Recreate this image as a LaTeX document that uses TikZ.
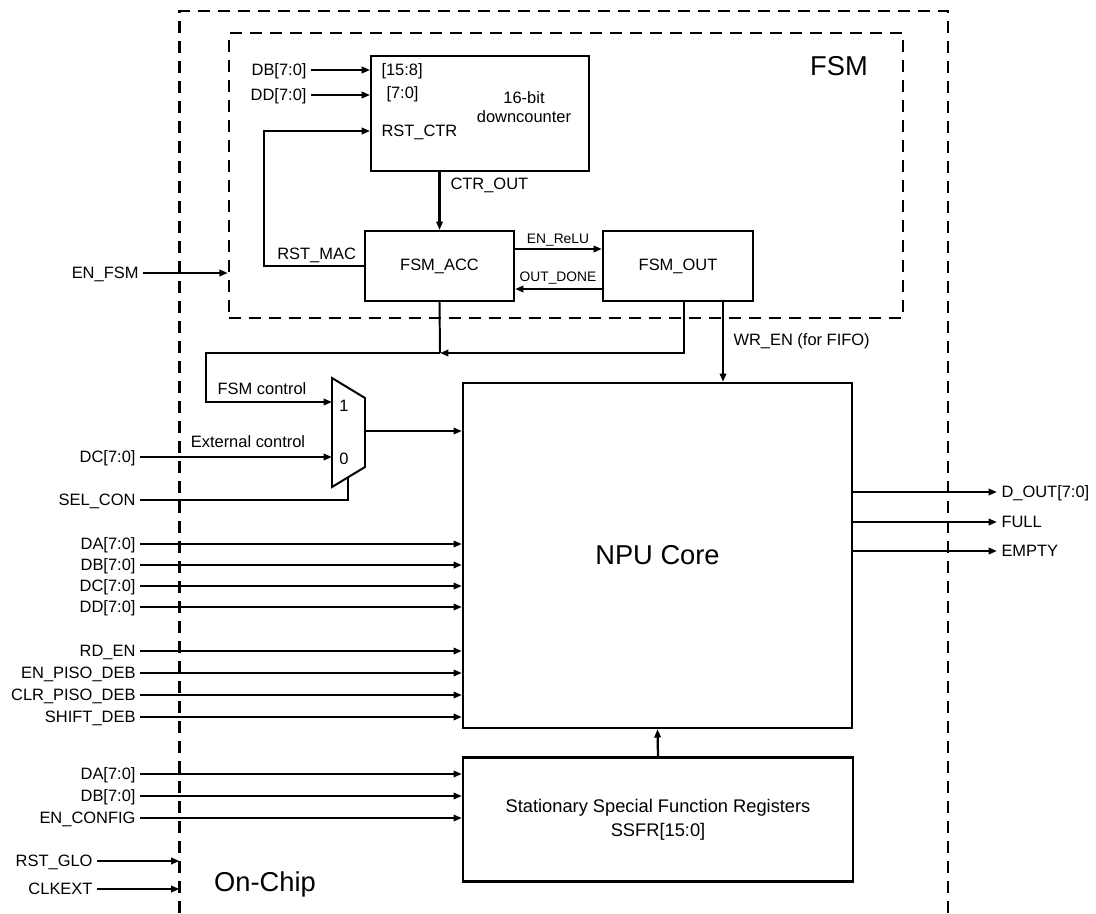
\documentclass[tikz,border=0pt]{standalone}
\usepackage{fontspec}
\setmainfont{Liberation Sans}
\usetikzlibrary{arrows.meta}

\begin{document}
\begin{tikzpicture}[x=0.025cm, y=-0.025cm, font=\fontsize{11.7}{14}\selectfont]
\tikzstyle{block} = [rectangle, draw, line width=1.5pt, inner sep=0pt, align=center]
\tikzstyle{line} = [draw, line width=1.4pt]
\tikzstyle{arrow} = [draw, line width=1.6pt, -{Triangle[length=2.1mm, width=1.6mm]}]
\tikzstyle{border} = [draw, line width=1.6pt, dash pattern=on 3mm off 2mm]
\tikzstyle{pin} = [inner sep=3pt, text height=8.4pt, text depth=0pt]
\tikzstyle{tag} = [font=\fontsize{9.8}{12}\selectfont, inner sep=1pt]
\tikzstyle{title} = [font=\fontsize{19.4}{23}\selectfont]

\useasboundingbox (0,0) rectangle (1096,913);

% chip and FSM borders
\path [border] (179.5,913) -- (179.5,11) -- (948,11) -- (948,913);
\coordinate (chipedge) at (179.5,0);
\node [border, minimum width=16.85cm, minimum height=7.125cm] (fsm) at (566,175.5) {};
\node [title] (fsmname) at (839,66) {FSM};
\node [title] (onchip) at (265,884) {On-Chip};

% blocks
\node [block, minimum width=5.44cm, minimum height=2.875cm] (ctr) at (480,113.5) {};
\node [align=center, font=\fontsize{11.7}{13.5}\selectfont] (ctrname) at (524,107.5) {16-bit\\downcounter};
\node [block, minimum width=3.725cm, minimum height=1.75cm] (acc) at (439.5,266) {FSM\_ACC};
\node [block, minimum width=3.75cm, minimum height=1.75cm] (out) at (678,266) {FSM\_OUT};
\node [block, title, minimum width=9.725cm, minimum height=8.625cm] (npu) at (657.5,555.5) {NPU Core};
\node [block, minimum width=9.75cm, minimum height=3.1cm, font=\fontsize{13}{17}\selectfont] (ssfr) at (658,819.5) {Stationary Special Function Registers\\SSFR[15:0]};
\path [arrow] (ssfr.north) -- (npu.south);

% counter ports
\node [pin, anchor=west] (p158) at (377,70) {[15:8]};
\node [pin, anchor=west] (p70) at (382,93) {[7:0]};
\node [pin, anchor=west] (prst) at (377,131) {RST\_CTR};
\node [pin, anchor=east] (cdb) at (311,70) {DB[7:0]};
\node [pin, anchor=east] (cdd) at (311,95) {DD[7:0]};
\path [arrow] (cdb.east) -- (cdb.east -| ctr.west);
\path [arrow] (cdd.east) -- (cdd.east -| ctr.west);
\coordinate (rstmac) at (264,266);
\path [arrow] (acc.west) -- (rstmac) |- (ctr.west |- prst.west);
\node [anchor=base east, inner sep=2pt] (rstlabel) at (359,259) {RST\_MAC};
\path [arrow] (acc.north |- ctr.south) -- (acc.north);
\node [pin, anchor=west] (ctrout) at (446,184) {CTR\_OUT};
%
\path [arrow] ([yshift=4.25mm]acc.east) -- ([yshift=4.25mm]out.west);
\path [arrow] ([yshift=-5.75mm]out.west) -- ([yshift=-5.75mm]acc.east);
\node [tag] (relu) at (558,240) {EN\_ReLU};
\node [tag] (done) at (558,278) {OUT\_DONE};
\node [pin, anchor=east] (enfsm) at (143,273) {EN\_FSM};
\path [arrow] (enfsm.east) -- (enfsm.east -| fsm.west);

% multiplexer
\draw [line] (332,378) -- (365,398) -- (365,467) -- (332,487) -- cycle;
\coordinate (muxin1) at (332,402);
\coordinate (muxin0) at (332,457);
\coordinate (muxsel) at (348,477.3);
\coordinate (muxout) at (365,431);
\node (one) at (344,406) {1};
\node (zero) at (344,459) {0};
\node (fsmctl) at (262,389) {FSM control};
\node (extctl) at (248,442) {External control};
\node [pin, anchor=east] (dcmux) at (140,457) {DC[7:0]};
\path [arrow] (dcmux.east) -- (muxin0);
\node [pin, anchor=east] (selcon) at (140,500) {SEL\_CON};
\path [line] (selcon.east) -| (muxsel);
\path [arrow] (muxout) -- (muxout -| npu.west);

% FSM outputs
\coordinate (outtap) at ([xshift=1.5mm]out.south);
\coordinate (wrtap) at ([xshift=11.25mm]out.south);
\coordinate (fsmjoin) at (440,353);
\coordinate (ctrlbend) at (206,353);
\path [line] (acc.south) -- (fsmjoin);
\path [arrow] (outtap) |- (fsmjoin);
\path [arrow] (fsmjoin) -- (ctrlbend) |- (muxin1);
\path [arrow] (wrtap) -- (wrtap |- npu.north);
\node [pin, anchor=west] (wren) at (729,340) {WR\_EN (for FIFO)};

% chip inputs and outputs
\foreach \y/\t in {544/DA[7:0], 565/DB[7:0], 586/DC[7:0], 607/DD[7:0], 651/RD\_EN, 673/EN\_PISO\_DEB, 695/CLR\_PISO\_DEB, 717/SHIFT\_DEB}{
  \node [pin, anchor=east] (np\y) at (140,\y) {\t};
  \path [arrow] (np\y.east) -- (np\y.east -| npu.west);
}
\foreach \y/\t in {774/DA[7:0], 796/DB[7:0], 818/EN\_CONFIG}{
  \node [pin, anchor=east] (sf\y) at (140,\y) {\t};
  \path [arrow] (sf\y.east) -- (sf\y.east -| ssfr.west);
}
\foreach \y/\t in {861/RST\_GLO, 889/CLKEXT}{
  \node [pin, anchor=east] (ck\y) at (97,\y) {\t};
  \path [arrow] (ck\y.east) -- (ck\y.east -| chipedge);
}
\foreach \y/\t in {492/D\_OUT[7:0], 522/FULL, 551/EMPTY}{
  \node [pin, anchor=west] (po\y) at (997,\y) {\t};
  \path [arrow] (npu.east |- po\y.west) -- (po\y.west);
}

\end{tikzpicture}
\end{document}
